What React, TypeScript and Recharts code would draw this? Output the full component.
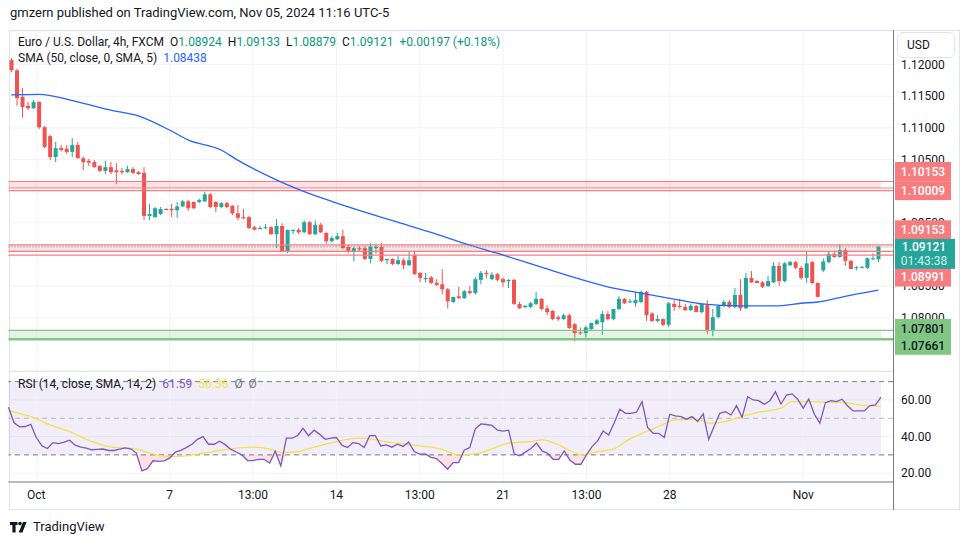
import React from 'react'
import { ComposedChart, Bar, Line, Area, XAxis, YAxis, CartesianGrid, ReferenceLine, ReferenceArea } from 'recharts'

const FONT = 'Roboto, "Noto Sans", sans-serif'
const UP = '#26a69a'
const DOWN = '#ef5350'
const GRID = '#f0f3fa'
const TEXT = '#131722'
const AXIS = '#797c85'

// EURUSD 4h candles, Sep 30 -> Nov 05 2024
const opens = [
  1.1207, 1.1191, 1.1149, 1.1135, 1.1131, 1.1141, 1.1101, 1.1087, 1.1054, 1.1068,
  1.1067, 1.1062, 1.1073, 1.1052, 1.1048, 1.1046, 1.104, 1.1032, 1.1038, 1.1033,
  1.1032, 1.103, 1.1035, 1.103, 1.1029, 1.0961, 1.0959, 1.0964, 1.0972, 1.0972,
  1.097, 1.0976, 1.0984, 1.0983, 1.0983, 1.0984, 1.0995, 1.0983, 1.0975, 1.0981,
  1.0977, 1.0965, 1.0959, 1.0959, 1.0943, 1.094, 1.0942, 1.0943, 1.0932, 1.0945,
  1.0904, 1.0937, 1.0939, 1.0935, 1.0951, 1.0932, 1.0947, 1.0934, 1.0921, 1.0924,
  1.0929, 1.0912, 1.0904, 1.091, 1.091, 1.0893, 1.091, 1.0912, 1.0891, 1.0893,
  1.0885, 1.0891, 1.0883, 1.0899, 1.0871, 1.0861, 1.0864, 1.0855, 1.0853, 1.0845,
  1.0825, 1.0834, 1.0831, 1.0842, 1.0839, 1.086, 1.0871, 1.0861, 1.0869, 1.0861,
  1.0858, 1.086, 1.0822, 1.0817, 1.0817, 1.0822, 1.083, 1.0815, 1.0811, 1.0801,
  1.0798, 1.0804, 1.079, 1.0777, 1.0776, 1.0782, 1.079, 1.0793, 1.0806, 1.0798,
  1.0814, 1.083, 1.0825, 1.0823, 1.0825, 1.0841, 1.0807, 1.0795, 1.0798, 1.0789,
  1.0822, 1.0819, 1.0817, 1.0812, 1.0819, 1.0809, 1.082, 1.0779, 1.0801, 1.0819,
  1.0825, 1.0817, 1.0836, 1.0815, 1.0863, 1.0858, 1.0856, 1.085, 1.0856, 1.0882,
  1.0858, 1.0883, 1.0888, 1.0879, 1.0863, 1.0888, 1.0855, 1.0875, 1.0888, 1.0901,
  1.0896, 1.0907, 1.089, 1.0879, 1.0879, 1.0879, 1.0893, 1.08924,
]
const highs = [
  1.121, 1.1193, 1.1163, 1.1141, 1.1144, 1.1142, 1.1103, 1.1089, 1.1078, 1.1073,
  1.1073, 1.1084, 1.1078, 1.1055, 1.1051, 1.1049, 1.1041, 1.1048, 1.1046, 1.1044,
  1.1037, 1.104, 1.1038, 1.1032, 1.1038, 1.098, 1.0975, 1.0975, 1.0973, 1.098,
  1.0983, 1.0986, 1.0986, 1.0984, 1.0988, 1.0999, 1.0997, 1.0984, 1.0983, 1.0983,
  1.0978, 1.0978, 1.0972, 1.0961, 1.0945, 1.0945, 1.0948, 1.0945, 1.0956, 1.0949,
  1.0939, 1.0939, 1.0942, 1.0954, 1.0953, 1.0954, 1.095, 1.0935, 1.0929, 1.0934,
  1.0939, 1.0915, 1.0912, 1.0913, 1.0913, 1.0918, 1.0917, 1.0918, 1.0893, 1.0894,
  1.0898, 1.0894, 1.0904, 1.0904, 1.0872, 1.0871, 1.0866, 1.0861, 1.0877, 1.0847,
  1.0833, 1.0849, 1.0844, 1.085, 1.0864, 1.0874, 1.0875, 1.0872, 1.0871, 1.0864,
  1.0861, 1.0861, 1.0825, 1.082, 1.0825, 1.0841, 1.0831, 1.082, 1.0812, 1.0804,
  1.0807, 1.0807, 1.0792, 1.0785, 1.0788, 1.0792, 1.0798, 1.0811, 1.0811, 1.0814,
  1.0834, 1.0831, 1.083, 1.0841, 1.0843, 1.0843, 1.0809, 1.0804, 1.0799, 1.0825,
  1.0828, 1.083, 1.0822, 1.0822, 1.082, 1.0823, 1.0828, 1.0814, 1.082, 1.0828,
  1.0828, 1.0847, 1.0861, 1.0871, 1.0874, 1.086, 1.0858, 1.0866, 1.0888, 1.0888,
  1.0888, 1.089, 1.089, 1.0882, 1.0905, 1.089, 1.0856, 1.0894, 1.0905, 1.0904,
  1.0917, 1.091, 1.0891, 1.0882, 1.0882, 1.0895, 1.0902, 1.09133,
]
const lows = [
  1.1188, 1.1135, 1.1116, 1.1128, 1.113, 1.1098, 1.1068, 1.1049, 1.1046, 1.1063,
  1.1059, 1.1054, 1.1052, 1.1033, 1.104, 1.1037, 1.103, 1.1027, 1.1027, 1.1011,
  1.1027, 1.1029, 1.1027, 1.1026, 1.0954, 1.0954, 1.0958, 1.0962, 1.097, 1.0959,
  1.0958, 1.0975, 1.0969, 1.0972, 1.0981, 1.0983, 1.0973, 1.0967, 1.0973, 1.0973,
  1.0962, 1.0954, 1.0956, 1.094, 1.0939, 1.094, 1.094, 1.0931, 1.091, 1.0904,
  1.0902, 1.0932, 1.0932, 1.0934, 1.0931, 1.0931, 1.0934, 1.0917, 1.0919, 1.0923,
  1.0909, 1.0902, 1.0889, 1.0905, 1.0891, 1.0886, 1.0901, 1.0888, 1.0885, 1.0883,
  1.0883, 1.0877, 1.0882, 1.0868, 1.0856, 1.0856, 1.0853, 1.085, 1.0837, 1.0815,
  1.0823, 1.083, 1.083, 1.0837, 1.0837, 1.0853, 1.0863, 1.086, 1.0858, 1.0849,
  1.0847, 1.082, 1.0814, 1.0815, 1.0815, 1.082, 1.0812, 1.0804, 1.0796, 1.0795,
  1.0796, 1.0782, 1.0763, 1.0773, 1.0769, 1.0781, 1.0789, 1.0773, 1.0796, 1.0796,
  1.0812, 1.0822, 1.0823, 1.0817, 1.0823, 1.0795, 1.0793, 1.0793, 1.0787, 1.0785,
  1.0811, 1.0815, 1.0811, 1.0811, 1.0809, 1.0807, 1.0774, 1.0771, 1.0799, 1.0817,
  1.0815, 1.0815, 1.0811, 1.0814, 1.0855, 1.0855, 1.0847, 1.0849, 1.0855, 1.085,
  1.0856, 1.0882, 1.0877, 1.086, 1.0855, 1.0853, 1.0833, 1.0872, 1.0886, 1.0895,
  1.0895, 1.0882, 1.0877, 1.0875, 1.0879, 1.0877, 1.0891, 1.08879,
]
const closes = [
  1.1191, 1.1147, 1.1133, 1.1131, 1.1141, 1.1101, 1.107, 1.1054, 1.1068, 1.1065,
  1.1062, 1.1073, 1.1052, 1.1046, 1.1045, 1.1038, 1.1032, 1.1038, 1.103, 1.103,
  1.103, 1.1035, 1.1029, 1.1027, 1.0961, 1.0964, 1.0973, 1.0972, 1.097, 1.097,
  1.0976, 1.0984, 1.0973, 1.0973, 1.0986, 1.0995, 1.0975, 1.0975, 1.0981, 1.0975,
  1.0965, 1.0958, 1.0957, 1.0942, 1.0939, 1.0942, 1.0943, 1.0932, 1.0945, 1.0905,
  1.0939, 1.0939, 1.0935, 1.0951, 1.0932, 1.0947, 1.0935, 1.0921, 1.0926, 1.0929,
  1.091, 1.0904, 1.091, 1.0909, 1.0893, 1.0912, 1.0912, 1.089, 1.0893, 1.0885,
  1.0891, 1.0883, 1.0891, 1.0869, 1.0863, 1.0863, 1.0855, 1.0852, 1.0845, 1.0826,
  1.0833, 1.0831, 1.0842, 1.0839, 1.0861, 1.0871, 1.0869, 1.0868, 1.086, 1.0856,
  1.086, 1.0822, 1.0815, 1.0819, 1.0823, 1.083, 1.0814, 1.0809, 1.0798, 1.0798,
  1.0804, 1.0784, 1.0776, 1.0776, 1.0785, 1.0792, 1.0796, 1.0806, 1.0798, 1.0814,
  1.083, 1.0823, 1.0826, 1.0828, 1.0841, 1.0804, 1.0795, 1.0798, 1.0789, 1.0823,
  1.0817, 1.0817, 1.0812, 1.0819, 1.0809, 1.0822, 1.0779, 1.0801, 1.0819, 1.0825,
  1.0817, 1.0836, 1.0815, 1.0863, 1.0856, 1.0855, 1.0849, 1.0858, 1.0882, 1.0858,
  1.0886, 1.0888, 1.0879, 1.0863, 1.0886, 1.0855, 1.0833, 1.0889, 1.0901, 1.0896,
  1.0907, 1.089, 1.0877, 1.088, 1.088, 1.0894, 1.0894, 1.09121,
]

// SMA(50) at a few bars
const smaIdx = [0, 5, 12, 18, 23, 29, 32, 38, 41, 48, 52, 58, 64, 70, 76, 83, 88, 96, 103, 108, 114, 121, 125, 132, 139, 143, 146, 151, 157]
const smaVal = [
  1.1152, 1.1153, 1.1141, 1.1128, 1.1119, 1.1095, 1.1081, 1.1065, 1.1049, 1.1018,
  1.1003, 1.0984, 1.0967, 1.0951, 1.0935, 1.0915, 1.0902, 1.088, 1.0861, 1.0849,
  1.0839, 1.0828, 1.0822, 1.0819, 1.0819, 1.0823, 1.0825, 1.0834, 1.08438,
]

// RSI(14), one value per bar
const rsiValues = [
  56, 47.5, 45.3, 45.5, 46.7, 39.5, 35, 33.5, 36.7, 36.2,
  37, 38, 35.3, 34.2, 33.7, 32.8, 33, 33.2, 32.4, 32.4,
  33.2, 33.8, 33.3, 31, 21.3, 22.5, 26.8, 26.5, 26.7, 28.2,
  31.5, 32.5, 34, 35.8, 38.5, 40, 35.8, 35.8, 37.5, 35.6,
  33, 31.6, 30, 26.9, 26.9, 27.6, 27.6, 25.5, 32, 24,
  39.1, 39.1, 40.5, 44.5, 40.5, 43.5, 41.2, 38.5, 39.2, 39.5,
  35.3, 34, 36.7, 36.2, 34, 40.5, 40.5, 34.9, 35.5, 34.2,
  35.8, 34.6, 37, 31.8, 30.4, 30.5, 28.7, 28, 25.3, 22.2,
  25.8, 25.8, 32.6, 34, 44.2, 46.9, 46.6, 46.1, 43.5, 43,
  43.5, 30.5, 29.5, 31.5, 33.5, 36.5, 32.2, 30.9, 27.6, 27.6,
  32.2, 27.2, 24.9, 24.9, 30, 34.5, 37.6, 43.1, 40.9, 47.5,
  54.9, 52.7, 52.7, 53.3, 59.1, 45, 41.8, 41.8, 39.5, 52.2,
  51.3, 50.9, 49.5, 50.9, 48.2, 52.4, 38.5, 45.8, 52.7, 53.6,
  51.8, 56.9, 50.5, 61.8, 60, 59.6, 57.6, 59.6, 64.5, 57.8,
  62.7, 63.3, 60.4, 55.5, 60.5, 52.2, 47.3, 58.5, 59.6, 59.1,
  60.4, 56.7, 54, 54, 54, 56.9, 57.3, 61.59,
]
// RSI-based MA(14), read at a few bars
const rsiMaIdx = [0, 4, 8, 11, 15, 18, 23, 26, 29, 32, 35, 40, 44, 47, 49, 52, 55, 59, 63, 65, 69, 74, 78, 81, 84, 87, 90, 94, 96, 99, 101, 103, 106, 109, 111, 114, 117, 120, 124, 126, 129, 132, 135, 139, 141, 144, 147, 150, 153, 157]
const rsiMaVal = [
  54.2, 50.9, 45.8, 42.7, 37.3, 34.5, 33.1, 30.5, 29.1, 29.5,
  30.9, 33.3, 34.2, 33.1, 31.3, 31.8, 34.2, 37.3, 39.1, 38.7,
  36.7, 34.9, 33.1, 30, 30.5, 33.3, 36.4, 37.3, 38.2, 35.5,
  32.4, 30, 31.8, 33.3, 37.3, 41.8, 45.5, 49.1, 49.5, 47.3,
  48.2, 50.9, 53.3, 55.5, 59.1, 59.1, 58.7, 58.7, 57.3, 56.36,
]

const tickIdx = [5, 29, 44, 59, 74, 89, 104, 119, 143]
const tickLabels = ['Oct', '7', '13:00', '14', '13:00', '21', '13:00', '28', 'Nov']
// 1.09000 and 1.10000 sit fully under the price tags, so they are left out
const priceTicks = [1.08, 1.085, 1.095, 1.105, 1.11, 1.115, 1.12]
const rsiTicks = [20, 40, 60]
const PRICE_DOMAIN = [1.0716, 1.1253]
const RSI_DOMAIN = [15.2, 75.8]

// drawn levels
const redZoneTop = [1.10153, 1.09153]
const redZoneBottom = [1.1005, 1.0905]
const redZoneLine = [1.10009, 1.08991]
const greenZone = [1.07661, 1.07801]
const lastPrice = 1.09121

const smaAt = new Map(smaIdx.map((k, j) => [k, smaVal[j]]))
const rsiMaAt = new Map(rsiMaIdx.map((k, j) => [k, rsiMaVal[j]]))

const data = opens.map((o, i) => ({
  t: i,
  o,
  h: highs[i],
  l: lows[i],
  c: closes[i],
  sma: smaAt.has(i) ? smaAt.get(i) : null,
  rsi: rsiValues[i],
  rsiMa: rsiMaAt.has(i) ? rsiMaAt.get(i) : null,
}))

function Candle(props: any) {
  const { x, y, width, height, payload } = props
  if (!payload || x == null || y == null) return null
  const top = Math.min(y, y + height)
  const span = Math.abs(height)
  const range = payload.h - payload.l
  const toY = (p: number) => (range > 0 ? top + ((payload.h - p) / range) * span : top)
  const col = payload.c >= payload.o ? UP : DOWN
  const b1 = toY(Math.max(payload.o, payload.c))
  const b2 = toY(Math.min(payload.o, payload.c))
  const cx = x + width / 2
  return (
    <g>
      <line x1={cx} x2={cx} y1={top} y2={top + span} stroke={col} strokeWidth={1} />
      <rect x={cx - 2} y={b1} width={4} height={Math.max(1, b2 - b1)} fill={col} />
    </g>
  )
}

// price tag drawn on the right scale, dy shifts it when tags would overlap
const tag = (text: string, bg: string, fg: string, dy: number) => (props: any) => {
  const vb = props.viewBox || {}
  const x = (vb.x || 0) + (vb.width || 0) + 2
  const cy = (vb.y || 0) + dy
  return (
    <g>
      <rect x={x} y={cy - 9.5} width={56} height={19} fill={bg} />
      <text x={x + 28} y={cy} dy="0.36em" textAnchor="middle" fontSize={12} fontWeight={500} fontFamily={FONT} fill={fg}>
        {text}
      </text>
    </g>
  )
}

const lastTag = (props: any) => {
  const vb = props.viewBox || {}
  const x = (vb.x || 0) + (vb.width || 0) + 2
  const cy = vb.y || 0
  return (
    <g>
      <rect x={x} y={cy - 8} width={60} height={30} fill={UP} />
      <text x={x + 29} y={cy} dy="0.36em" textAnchor="middle" fontSize={12} fontWeight={500} fontFamily={FONT} fill="#fff">
        {lastPrice.toFixed(5)}
      </text>
      <text x={x + 29} y={cy + 14} dy="0.36em" textAnchor="middle" fontSize={12} fontFamily={FONT} fill="#d6f0ec">
        01:43:38
      </text>
    </g>
  )
}

const redTagDy = [[-10, 0], [-15, 22]]

export default function App() {
  const vGrid = (key: string) => tickIdx.map((i) => <ReferenceLine key={key + i} x={i} stroke={GRID} />)
  const green = '#089981'
  return (
    <div style={{ position: 'relative', width: 970, height: 545, background: '#fff', fontFamily: FONT, color: TEXT, overflow: 'hidden' }}>
      <style>{'body{margin:0}'}</style>
      <div style={{ position: 'absolute', left: 10, top: 5, fontSize: 13, whiteSpace: 'nowrap' }}>
        gmzern published on TradingView.com, Nov 05, 2024 11:16 UTC-5
      </div>

      <div style={{ position: 'absolute', left: 9, top: 30, width: 951, height: 480, border: '1px solid #e0e3eb', boxSizing: 'border-box' }} />

      {/* main pane: grid + price scale */}
      <div style={{ position: 'absolute', left: 0, top: 31 }}>
        <ComposedChart width={970} height={340} data={data} margin={{ top: 0, right: 0, bottom: 0, left: 8.5 }}>
          <CartesianGrid vertical={false} stroke={GRID} />
          {vGrid('m')}
          <XAxis dataKey="t" type="category" hide padding={{ left: 0, right: 12 }} />
          <YAxis
            orientation="right"
            width={77}
            domain={PRICE_DOMAIN}
            ticks={priceTicks}
            interval={0}
            allowDataOverflow
            axisLine={false}
            tickLine={false}
            tick={{ fill: TEXT, fontSize: 12, fontFamily: FONT }}
            tickFormatter={(v: number) => v.toFixed(5)}
          />
        </ComposedChart>
      </div>

      {/* main pane: zones, candles, SMA */}
      <div style={{ position: 'absolute', left: 0, top: 31 }}>
        <ComposedChart width={970} height={340} data={data} margin={{ top: 0, right: 77, bottom: 0, left: 8.5 }}>
          <XAxis dataKey="t" type="category" hide padding={{ left: 0, right: 12 }} />
          <YAxis hide domain={PRICE_DOMAIN} allowDataOverflow />
          {redZoneTop.map((top, k) => (
            <ReferenceArea key={'ra' + k} y1={redZoneBottom[k]} y2={top} fill="#f23645" fillOpacity={0.15} stroke="none" />
          ))}
          <ReferenceArea y1={greenZone[0]} y2={greenZone[1]} fill="#4caf50" fillOpacity={0.15} stroke="none" />
          {redZoneTop.map((top, k) => (
            <ReferenceLine key={'rt' + k} y={top} stroke="#f77c80" strokeWidth={1.2} label={tag(top.toFixed(5), '#f77c80', '#fff', redTagDy[k][0])} />
          ))}
          {redZoneBottom.map((b, k) => (
            <ReferenceLine key={'rb' + k} y={b} stroke="#f77c80" strokeWidth={1.2} />
          ))}
          {redZoneLine.map((v, k) => (
            <ReferenceLine key={'rl' + k} y={v} stroke="#f77c80" strokeWidth={1.2} label={tag(v.toFixed(5), '#f77c80', '#fff', redTagDy[k][1])} />
          ))}
          <ReferenceLine y={greenZone[1]} stroke="#81c784" strokeWidth={1.2} label={tag(greenZone[1].toFixed(5), '#81c784', TEXT, -2)} />
          <ReferenceLine y={greenZone[0]} stroke="#81c784" strokeWidth={2.5} label={tag(greenZone[0].toFixed(5), '#81c784', TEXT, 6)} />
          <Bar dataKey={(d: any) => [d.l, d.h]} barSize={4} shape={(p: any) => <Candle {...p} />} isAnimationActive={false} />
          <Line type="monotone" dataKey="sma" stroke="#2962ff" strokeWidth={1.3} dot={false} connectNulls isAnimationActive={false} />
          <ReferenceLine y={lastPrice} stroke={UP} strokeDasharray="1 2" label={lastTag} />
        </ComposedChart>
      </div>

      {/* RSI pane + time scale */}
      <div style={{ position: 'absolute', left: 0, top: 371 }}>
        <ComposedChart width={970} height={139} data={data} margin={{ top: 0, right: 0, bottom: 0, left: 8.5 }}>
          <CartesianGrid vertical={false} stroke={GRID} />
          {vGrid('r')}
          <ReferenceArea y1={30} y2={70} fill="#7e57c2" fillOpacity={0.1} stroke="none" />
          <ReferenceLine y={70} stroke="#787b86" strokeDasharray="5 4" />
          <ReferenceLine y={50} stroke="#b2b5be" strokeDasharray="5 4" />
          <ReferenceLine y={30} stroke="#787b86" strokeDasharray="5 4" />
          <Area
            type="linear"
            dataKey={(d: any) => [Math.min(d.rsi, 30), 30]}
            fill="#f23645"
            fillOpacity={0.15}
            stroke="none"
            isAnimationActive={false}
          />
          <Line type="monotone" dataKey="rsiMa" stroke="#f5e04a" strokeWidth={1.3} dot={false} connectNulls isAnimationActive={false} />
          <Line type="linear" dataKey="rsi" stroke="#7e57c2" strokeWidth={1.3} dot={false} isAnimationActive={false} />
          <XAxis
            dataKey="t"
            type="category"
            ticks={tickIdx}
            interval={0}
            height={28}
            padding={{ left: 0, right: 12 }}
            axisLine={{ stroke: AXIS }}
            tickLine={false}
            tick={{ fill: TEXT, fontSize: 12, fontFamily: FONT }}
            tickFormatter={(v: number) => tickLabels[tickIdx.indexOf(v)] ?? ''}
          />
          <YAxis
            orientation="right"
            width={77}
            domain={RSI_DOMAIN}
            ticks={rsiTicks}
            interval={0}
            allowDataOverflow
            axisLine={false}
            tickLine={false}
            tick={{ fill: TEXT, fontSize: 12, fontFamily: FONT }}
            tickFormatter={(v: number) => v.toFixed(2)}
          />
        </ComposedChart>
      </div>

      <div style={{ position: 'absolute', left: 9, top: 371, width: 884, height: 1, background: '#e0e3eb' }} />
      <div style={{ position: 'absolute', left: 893, top: 30, width: 1, height: 480, background: AXIS }} />

      <div style={{ position: 'absolute', left: 897, top: 32, width: 58, height: 26, border: '1px solid #e0e3eb', borderRadius: 6, boxSizing: 'border-box', fontSize: 12, lineHeight: '24px', paddingLeft: 9, background: '#fff' }}>
        USD
      </div>

      <div style={{ position: 'absolute', left: 18, top: 35, fontSize: 12, whiteSpace: 'nowrap', lineHeight: '15px' }}>
        Euro / U.S. Dollar, 4h, FXCM&nbsp;&nbsp;O<span style={{ color: green }}>1.08924</span>&nbsp;&nbsp;H
        <span style={{ color: green }}>1.09133</span>&nbsp;&nbsp;L<span style={{ color: green }}>1.08879</span>&nbsp;&nbsp;C
        <span style={{ color: green }}>1.09121</span>&nbsp;&nbsp;<span style={{ color: green }}>+0.00197 (+0.18%)</span>
      </div>
      <div style={{ position: 'absolute', left: 18, top: 51, fontSize: 12, whiteSpace: 'nowrap', lineHeight: '15px' }}>
        SMA (50, close, 0, SMA, 5)&nbsp;&nbsp;<span style={{ color: '#2962ff' }}>1.08438</span>
      </div>
      <div style={{ position: 'absolute', left: 18, top: 377, fontSize: 12, whiteSpace: 'nowrap', lineHeight: '15px' }}>
        RSI (14, close, SMA, 14, 2)&nbsp;&nbsp;<span style={{ color: '#7e57c2' }}>61.59</span>&nbsp;&nbsp;
        <span style={{ color: '#f5e04a' }}>56.36</span>&nbsp;&nbsp;<span style={{ color: '#787b86' }}>Ø&nbsp;&nbsp;Ø</span>
      </div>

      <svg style={{ position: 'absolute', left: 10, top: 521 }} width={20} height={13} viewBox="0 0 20 13">
        <path d="M0 1h7.5v3H5.6v7.5H2.4V4H0z" fill={TEXT} />
        <circle cx={10} cy={2.6} r={1.8} fill={TEXT} />
        <path d="M13 1h3.6l-4.2 10.5H8.7z" fill={TEXT} />
      </svg>
      <div style={{ position: 'absolute', left: 33, top: 519, fontSize: 13, whiteSpace: 'nowrap' }}>TradingView</div>
    </div>
  )
}
